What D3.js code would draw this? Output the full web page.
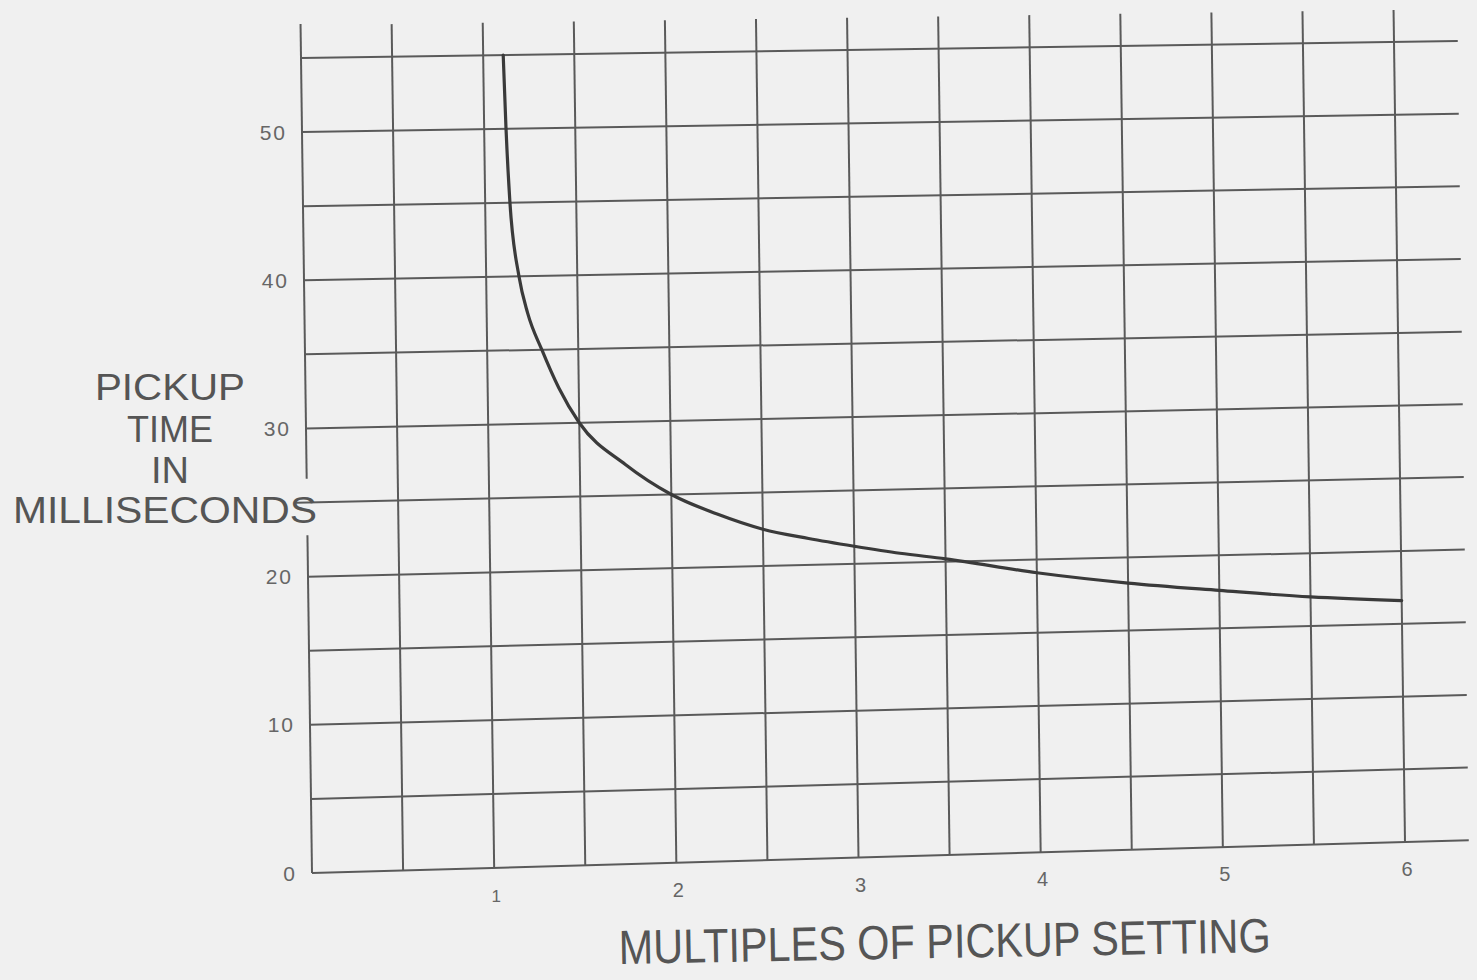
<!DOCTYPE html>
<html>
<head>
<meta charset="utf-8">
<script src="https://cdn.jsdelivr.net/npm/d3@7"></script>
<style>
    body { margin: 0; background: #f0f0f0; }
    svg { display: block; }
    text { font-family: 'Liberation Sans', Arial, sans-serif; }
</style>
</head>
<body>
<svg id="chart" width="1477" height="980"></svg>
<script>
// values
const xTickValues = [1, 2, 3, 4, 5, 6];
const yTickValues = [0, 10, 20, 30, 40, 50];
const gridXValues = [0, 0.5, 1, 1.5, 2, 2.5, 3, 3.5, 4, 4.5, 5, 5.5, 6];
const gridYValues = [0, 5, 10, 15, 20, 25, 30, 35, 40, 45, 50, 55];

// pickup curve
const curveX = [1.11, 1.12, 1.136, 1.18, 1.225, 1.30, 1.39, 1.5, 1.75, 2, 2.25, 2.5, 2.75, 3, 3.25, 3.5, 4, 4.5, 5, 5.5, 6];
const curveY = [55, 50, 45, 40, 37.5, 35, 32.4, 30.0, 27.1, 25.0, 23.6, 22.5, 21.8, 21.2, 20.65, 20.2, 19.1, 18.25, 17.6, 17.0, 16.6];

const yTitleLines = ['PICKUP', 'TIME', 'IN', 'MILLISECONDS'];
const xTitle = 'MULTIPLES OF PICKUP SETTING';

const svg = d3.select('#chart');

// the sheet is scanned a bit crooked: pixel corners of the (0..6, 0..55) box
const c00 = [312, 873], c10 = [1405, 842], c01 = [301, 58], c11 = [1394, 42];

const x = d3.scaleLinear().domain([0, 6]).range([0, 1]);
const y = d3.scaleLinear().domain([0, 55]).range([0, 1]);

function warp(xv, yv) {
    const s = x(xv), t = y(yv);
    const a = (1 - s) * (1 - t), b = s * (1 - t), c = (1 - s) * t, d = s * t;
    return [
        a * c00[0] + b * c10[0] + c * c01[0] + d * c11[0],
        a * c00[1] + b * c10[1] + c * c01[1] + d * c11[1]
    ];
}

const grid = svg.append('g')
    .attr('stroke', '#5a5a5a')
    .attr('stroke-width', 2)
    .attr('fill', 'none');

function seg(p, q) {
    grid.append('line')
        .attr('x1', p[0]).attr('y1', p[1])
        .attr('x2', q[0]).attr('y2', q[1]);
}

// vertical lines (left axis has a gap for the title)
gridXValues.forEach(gx => {
    if (gx === 0) {
        seg(warp(0, 0), warp(0, 22.8));
        seg(warp(0, 26.6), warp(0, 57.3));
    } else {
        seg(warp(gx, 0), warp(gx, 57.2));
    }
});

// horizontal lines
gridYValues.forEach(gy => {
    const start = gy === 25 ? -0.06 : 0;
    seg(warp(start, gy), warp(6.35, gy));
});

// curve
const pts = curveX.map((cx, i) => warp(cx, curveY[i]));
svg.append('path')
    .datum(pts)
    .attr('fill', 'none')
    .attr('stroke', '#3a3a3a')
    .attr('stroke-width', 3.2)
    .attr('stroke-linecap', 'round')
    .attr('d', d3.line().curve(d3.curveMonotoneX));

// tick labels
svg.append('g')
    .selectAll('text')
    .data(yTickValues)
    .enter().append('text')
    .attr('x', d => warp(0, d)[0] - 15)
    .attr('y', d => warp(0, d)[1])
    .attr('dy', '0.36em')
    .attr('text-anchor', 'end')
    .attr('font-family', 'DejaVu Sans')
    .attr('font-size', 21)
    .attr('letter-spacing', 2)
    .attr('fill', '#666')
    .text(d => d);

svg.append('g')
    .selectAll('text')
    .data(xTickValues)
    .enter().append('text')
    .attr('x', d => warp(d, 0)[0] + 2)
    .attr('y', d => warp(d, 0)[1] + 34)
    .attr('text-anchor', 'middle')
    .attr('font-family', 'DejaVu Sans')
    .attr('font-size', d => d === 1 ? 17 : 20)
    .attr('fill', '#666')
    .text(d => d);

// axis titles
const yTitleBase = [400, 442, 483, 523];
const yTitleWidth = [150, 86, 38, 304];
svg.append('g')
    .selectAll('text')
    .data(yTitleLines)
    .enter().append('text')
    .attr('x', (d, i) => i === 3 ? 165 : 170)
    .attr('y', (d, i) => yTitleBase[i])
    .attr('text-anchor', 'middle')
    .attr('font-size', 37)
    .attr('textLength', (d, i) => yTitleWidth[i])
    .attr('lengthAdjust', 'spacingAndGlyphs')
    .attr('fill', '#555')
    .text(d => d);

svg.append('text')
    .attr('transform', 'translate(945,958) rotate(-1.05)')
    .attr('text-anchor', 'middle')
    .attr('font-size', 48)
    .attr('textLength', 652)
    .attr('lengthAdjust', 'spacingAndGlyphs')
    .attr('fill', '#555')
    .text(xTitle);
</script>
</body>
</html>
